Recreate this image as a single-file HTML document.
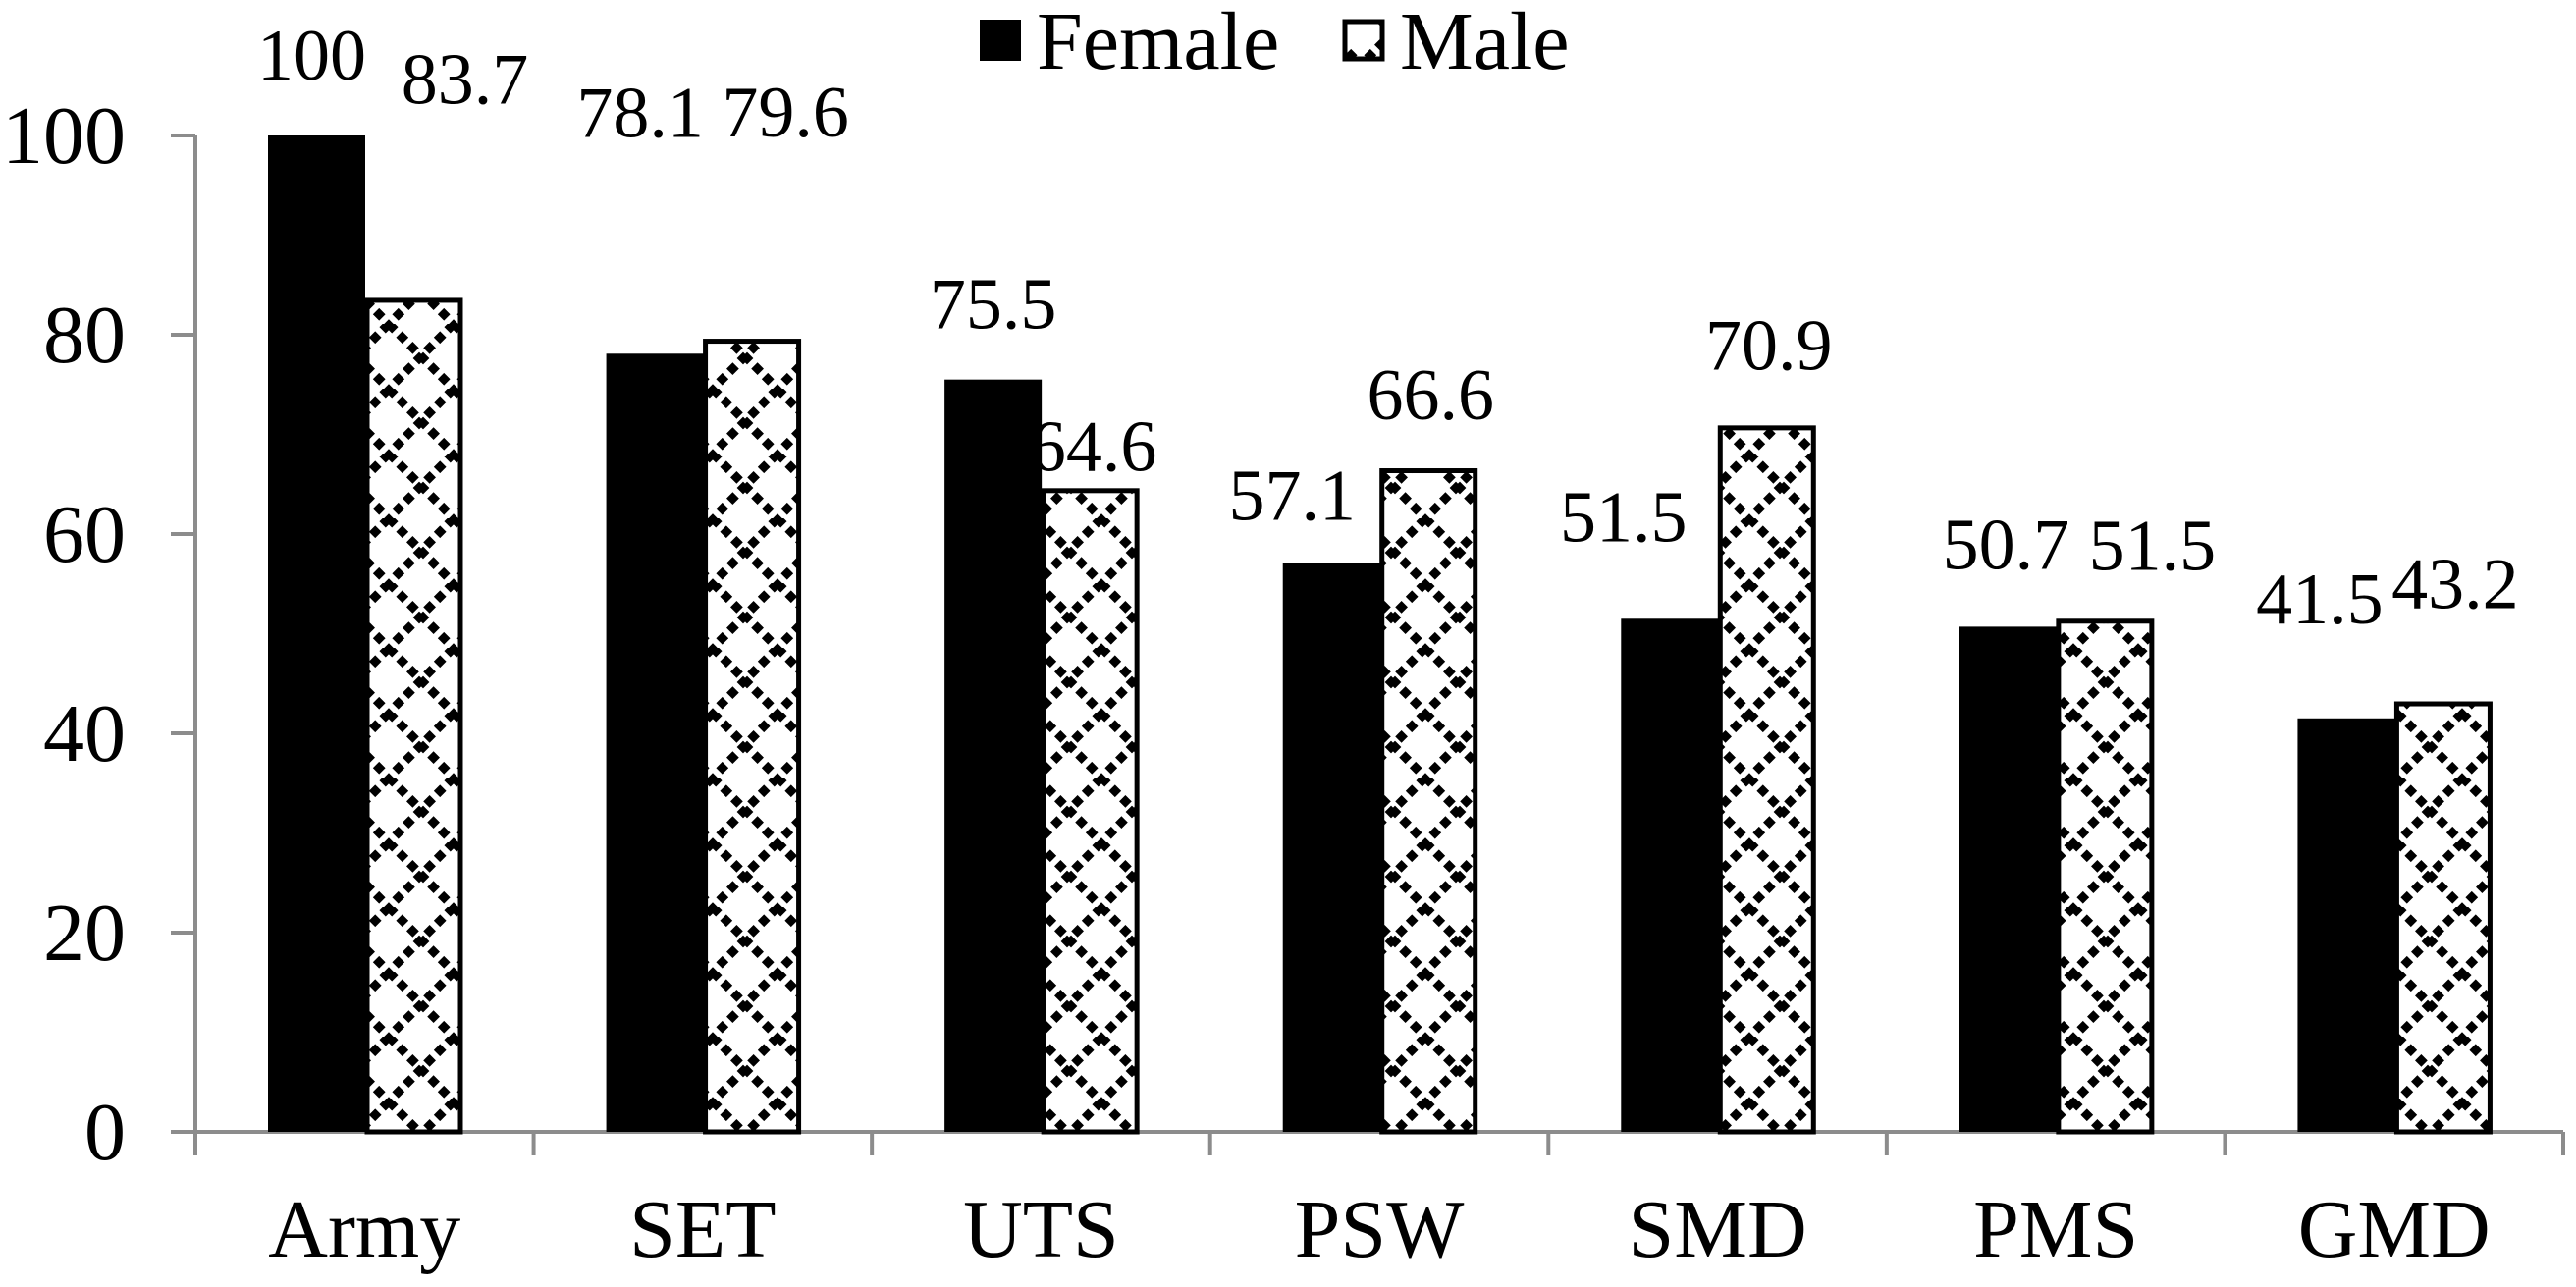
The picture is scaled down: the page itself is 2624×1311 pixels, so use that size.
<!DOCTYPE html>
<html><head><meta charset="utf-8"><style>
html,body{margin:0;padding:0;background:#fff;}
svg{display:block;font-family:"Liberation Serif",serif;}
</style></head><body>
<svg id="chart" width="2624" height="1311" viewBox="0 0 2624 1311" xmlns="http://www.w3.org/2000/svg">
<defs>
<pattern id="diamond" patternUnits="userSpaceOnUse" width="66" height="66" x="0" y="0">
<rect width="66" height="66" fill="#fff"/>
<line x1="0" y1="0" x2="66" y2="66" stroke="#000" stroke-width="9" stroke-dasharray="9 6"/>
<line x1="66" y1="0" x2="0" y2="66" stroke="#000" stroke-width="9" stroke-dasharray="9 6"/>
</pattern>
</defs>
<g id="legend">
<g>
<rect x="998" y="20" width="42" height="42" fill="#000"/>
<text x="1056" y="70" font-size="84">Female</text>
</g>
<g>
<rect x="1370" y="22" width="38" height="38" fill="url(#diamond)" stroke="#000" stroke-width="5"/>
<text x="1426" y="70" font-size="84">Male</text>
</g>
</g>
<g id="axes"></g>
<g id="bars"></g>
<g id="labels"></g>
</svg>
<script>
const categories = ["Army","SET","UTS","PSW","SMD","PMS","GMD"];
const femaleValues = [100,78.1,75.5,57.1,51.5,50.7,41.5];
const maleValues = [83.7,79.6,64.6,66.6,70.9,51.5,43.2];
const femaleLabels = ["100","78.1","75.5","57.1","51.5","50.7","41.5"];
const maleLabels = ["83.7","79.6","64.6","66.6","70.9","51.5","43.2"];
const yTicks = [0,20,40,60,80,100];

// layout-only label nudges (pixels), not data
const femaleNudgeX = [-5,-15,0,-40,-47,-2,-27];
const femaleNudgeY = [-4,-168,1,9,-26,-6,-44];
const maleNudgeX = [52,34,3,2,2,48,12];
const maleNudgeY = [-145,-153,35,3,-4,3,-42];

const NS = "http://www.w3.org/2000/svg";
const plotL = 199, plotR = 2611, y0 = 1153, yTop = 138, yMax = 100;
const catW = (plotR - plotL) / categories.length;
const barW = 99, barOff = 74;
function yScale(v){ return y0 - (v / yMax) * (y0 - yTop); }
function xCat(i){ return plotL + i * catW; }
function mk(tag, attrs, parent){
  const el = document.createElementNS(NS, tag);
  for (const k in attrs) el.setAttribute(k, attrs[k]);
  parent.appendChild(el);
  return el;
}
const axes = document.getElementById('axes');
const bars = document.getElementById('bars');
const labels = document.getElementById('labels');

let yAxis = mk('line', {x1: plotL, y1: yTop, x2: plotL, y2: y0, stroke: '#8c8c8c', 'stroke-width': 4}, axes);


yTicks.forEach(function(t){
  const y = yScale(t);
  const tk = mk('line', {x1: 174, y1: y, x2: plotL, y2: y, stroke: '#8c8c8c', 'stroke-width': 4}, axes);
  
  
  const lb = mk('text', {x: 128, y: y + 28, 'font-size': 84, 'text-anchor': 'end'}, axes);
  lb.textContent = String(t);
  
  
});

categories.forEach(function(c, i){
  const x = xCat(i);
  const fTop = yScale(femaleValues[i]);
  const fb = mk('rect', {x: x + barOff, y: fTop, width: barW, height: y0 - fTop, fill: '#000'}, bars);
  
  
  const mTop = yScale(maleValues[i]);
  const mb = mk('rect', {x: x + barOff + barW + 2, y: mTop + 2.5, width: barW - 4, height: y0 - mTop - 2.5, fill: 'url(#diamond)', stroke: '#000', 'stroke-width': 5}, bars);
  
  
  const fl = mk('text', {x: x + barOff + barW / 2 + femaleNudgeX[i], y: fTop - 53 + femaleNudgeY[i], 'font-size': 74, 'text-anchor': 'middle'}, labels);
  fl.textContent = femaleLabels[i];
  
  
  const ml = mk('text', {x: x + barOff + barW * 1.5 + maleNudgeX[i], y: mTop - 53 + maleNudgeY[i], 'font-size': 74, 'text-anchor': 'middle'}, labels);
  ml.textContent = maleLabels[i];
  
  
  const cl = mk('text', {x: x + catW / 2, y: 1280, 'font-size': 84, 'text-anchor': 'middle'}, axes);
  cl.textContent = c;
  
  
});
for (let i = 0; i <= categories.length; i++) {
  const xt = mk('line', {x1: xCat(i), y1: y0, x2: xCat(i), y2: 1177, stroke: '#8c8c8c', 'stroke-width': 4}, axes);
  
  
}
let xAxis = mk('line', {x1: 174, y1: y0, x2: plotR, y2: y0, stroke: '#8c8c8c', 'stroke-width': 4}, axes);


</script>
</body></html>
